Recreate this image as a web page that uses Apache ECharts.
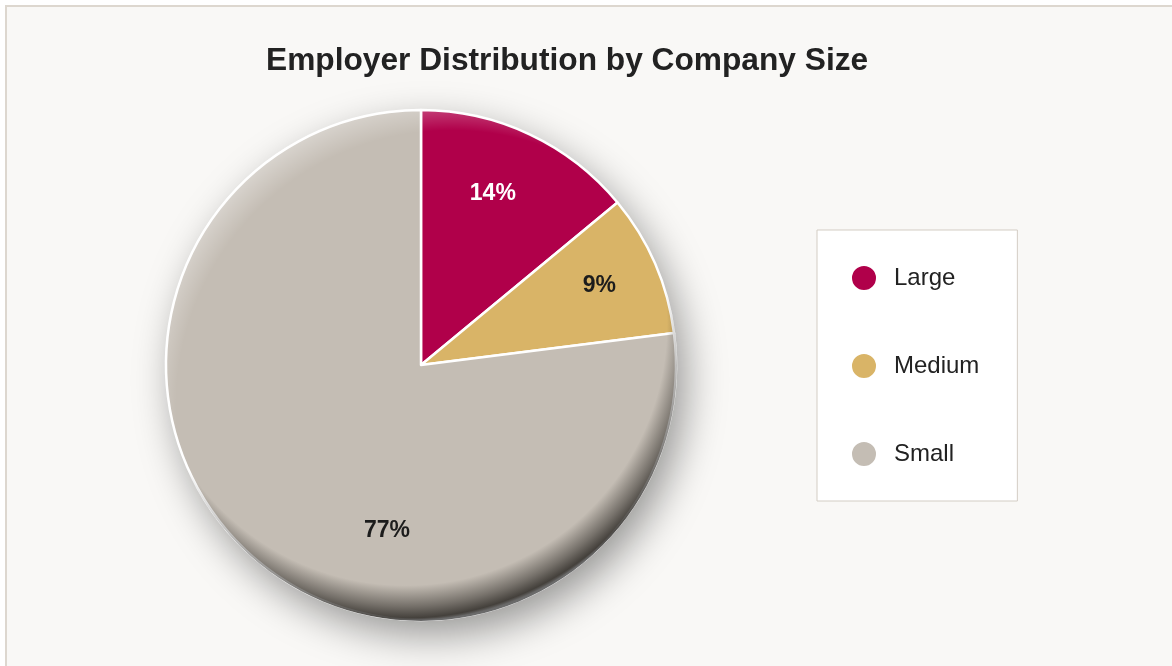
<!DOCTYPE html>
<html>
<head>
<meta charset="utf-8">
<script src="https://cdn.jsdelivr.net/npm/echarts@6/dist/echarts.min.js"></script>
<style>
  html, body { margin: 0; padding: 0; background: #ffffff; width: 1172px; height: 666px; overflow: hidden; }
  #frame { position: absolute; left: 5px; top: 5px; width: 1190px; height: 690px; background: #f9f8f6;
           border: 2px solid #ddd7cf; box-sizing: border-box; }
  #chart { position: absolute; left: 0; top: 0; width: 1172px; height: 666px; }
</style>
</head>
<body>
<div id="frame"></div>
<div id="chart"></div>
<script>
// Employer counts by company size, in percent
const categories = ['Large', 'Medium', 'Small'];
const shares = [14, 9, 77];
const sliceColors = ['#b0004a', '#d9b467', '#c4bdb4'];
const labelColors = ['#ffffff', '#1c1c1c', '#1c1c1c'];

// Pie geometry (pixels)
const CX = 421, CY = 365, R = 255;
// Label anchors: angle clockwise from 12 o'clock (deg), distance as a fraction of the radius
const labelSpots = [[22.7, 0.73], [66.1, 0.765], [191.6, 0.665]];

const pieData = categories.map((name, i) => ({
  name: name,
  value: shares[i],
  itemStyle: { color: sliceColors[i] },
  label: { color: labelColors[i] }
}));

const chart = echarts.init(document.getElementById('chart'), null, { renderer: 'canvas' });

const disc = { type: 'pie', center: [CX, CY], silent: true, animation: false,
  label: { show: false }, labelLine: { show: false }, emphasis: { disabled: true }, tooltip: { show: false } };

chart.setOption({
  backgroundColor: 'transparent',
  animation: false,
  title: {
    text: 'Employer Distribution by Company Size',
    left: 266,
    top: 45,
    padding: 0,
    textStyle: { fontFamily: 'Liberation Sans, Arial, sans-serif', fontWeight: 'bold', fontSize: 31.7, color: '#222222' }
  },
  legend: {
    data: categories,
    orient: 'vertical',
    left: 817,
    top: 230,
    selectedMode: false,
    icon: 'circle',
    itemWidth: 26,
    itemHeight: 26,
    itemGap: 60,
    padding: [34, 38, 33, 33],
    backgroundColor: '#ffffff',
    borderColor: '#d3cdc4',
    borderWidth: 1,
    textStyle: { fontFamily: 'Liberation Sans, Arial, sans-serif', fontSize: 24, color: '#222222', padding: [0, 0, 0, 12] }
  },
  series: [
    // base disc carrying the drop shadow
    Object.assign({}, disc, {
      radius: [0, R],
      z: 1,
      data: [{ value: 1, name: '', itemStyle: { color: '#c4bdb4', shadowBlur: 40, shadowColor: 'rgba(0,0,0,0.4)', shadowOffsetX: 9, shadowOffsetY: 15 } }]
    }),
    // the data slices
    {
      type: 'pie',
      name: 'Company size',
      center: [CX, CY],
      radius: [0, R],
      startAngle: 90,
      clockwise: true,
      z: 2,
      avoidLabelOverlap: false,
      animation: false,
      emphasis: { disabled: true },
      itemStyle: { borderColor: '#ffffff', borderWidth: 2.5 },
      label: {
        show: true,
        position: 'inside',
        formatter: '{c}%',
        fontFamily: 'Liberation Sans, Arial, sans-serif',
        fontWeight: 'bold',
        fontSize: 23
      },
      labelLine: { show: false },
      labelLayout: function (p) {
        const spot = labelSpots[p.dataIndex];
        const a = spot[0] * Math.PI / 180;
        return {
          x: CX + Math.sin(a) * spot[1] * R,
          y: CY - Math.cos(a) * spot[1] * R,
          align: 'center',
          verticalAlign: 'middle'
        };
      },
      data: pieData
    },
    // bevel: dark rim toward the lower right
    Object.assign({}, disc, {
      radius: [0, R + 1],
      z: 3,
      data: [{ value: 1, name: '', itemStyle: { color: {
        type: 'radial', x: 0.47, y: 0.42, r: 0.58,
        colorStops: [
          { offset: 0, color: 'rgba(40,37,33,0)' },
          { offset: 0.88, color: 'rgba(40,37,33,0)' },
          { offset: 0.95, color: 'rgba(40,37,33,0.5)' },
          { offset: 0.99, color: 'rgba(40,37,33,0.82)' },
          { offset: 1, color: 'rgba(90,90,90,0.9)' }
        ] } } }]
    }),
    // bevel: soft highlight toward the upper left
    Object.assign({}, disc, {
      radius: [0, R],
      z: 4,
      data: [{ value: 1, name: '', itemStyle: { color: {
        type: 'radial', x: 0.56, y: 0.58, r: 0.6,
        colorStops: [
          { offset: 0, color: 'rgba(255,255,255,0)' },
          { offset: 0.9, color: 'rgba(255,255,255,0)' },
          { offset: 1, color: 'rgba(255,255,255,0.35)' }
        ] } } }]
    })
  ]
});
</script>
</body>
</html>
